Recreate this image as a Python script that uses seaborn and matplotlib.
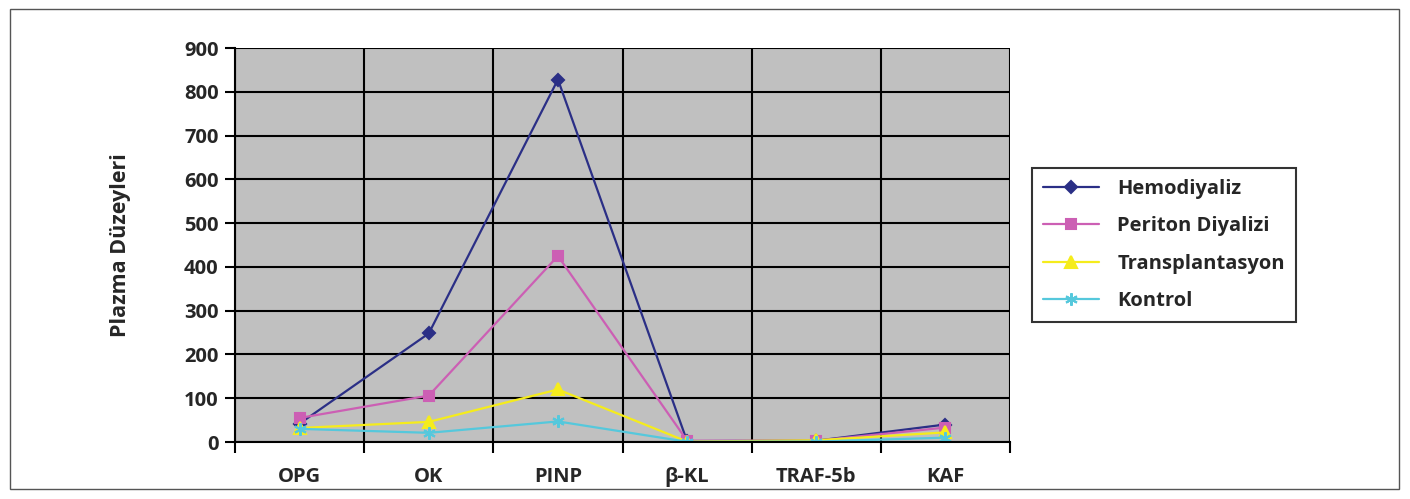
import numpy as np
import pandas as pd
import matplotlib
matplotlib.use("Agg")
import matplotlib.pyplot as plt
import seaborn as sns

# values
categories = ["OPG", "OK", "PINP", "\u03b2-KL", "TRAF-5b", "KAF"]
hemodiyaliz = [42, 248, 828, 2, 3, 40]
periton = [55, 106, 425, 3, 3, 33]
transplant = [32, 46, 120, 1, 4, 22]
kontrol = [30, 21, 47, 0.5, 1, 10]
series_names = ["Hemodiyaliz", "Periton Diyalizi", "Transplantasyon", "Kontrol"]
y_ticks = [0, 100, 200, 300, 400, 500, 600, 700, 800, 900]

sns.set_style("white")
plt.rcParams["font.family"] = ["Open Sans", "DejaVu Sans"]

pos = np.arange(len(categories))
all_vals = [hemodiyaliz, periton, transplant, kontrol]
colors = ["#2b2f86", "#cc5fb4", "#f5ec1c", "#55c8dc"]
markers = ["D", "s", "^", (6, 2, 0)]
msizes = [6, 7, 8, 9]

fig = plt.figure(figsize=(14.1, 4.99), dpi=100)
ax = fig.add_axes([0.1667, 0.1142, 0.5496, 0.7896])
ax.set_facecolor("#c0c0c0")

#draw each series with its own marker
for name, vals, c, m, ms in zip(series_names, all_vals, colors, markers, msizes):
    d = pd.DataFrame({"pos": pos, "val": vals})
    sns.lineplot(data=d, x="pos", y="val", color=c, marker=m, markersize=ms,
                 markeredgecolor=c, markeredgewidth=1.5, linewidth=1.6,
                 label=name, ax=ax)

ax.set_xlim(-0.5, len(categories) - 0.5)
ax.set_ylim(0, 900)
ax.set_yticks(y_ticks)
ax.set_xticks(pos)
ax.set_xticklabels(categories)
ax.set_xticks(np.arange(len(categories) + 1) - 0.5, minor=True)
ax.tick_params(axis="x", which="major", length=0, pad=18, labelsize=14.5)
ax.tick_params(axis="x", which="minor", length=8, width=1.5, color="black", direction="out", bottom=True)
ax.tick_params(axis="y", length=7, width=1.5, color="black", labelsize=14.5, pad=5, left=True)
for lab in ax.get_xticklabels() + ax.get_yticklabels():
    lab.set_fontweight("bold")
ax.grid(axis="y", which="major", color="black", linewidth=1.5)
ax.grid(axis="x", which="minor", color="black", linewidth=1.5)
ax.set_axisbelow(True)
for side in ["top", "right"]:
    ax.spines[side].set_visible(False)
ax.spines["left"].set_color("black")
ax.spines["left"].set_linewidth(1.5)
ax.spines["bottom"].set_color("black")
ax.spines["bottom"].set_linewidth(1.5)

ax.set_xlabel("")
ax.set_ylabel("Plazma D\u00fczeyleri", fontsize=15.5, fontweight="bold", labelpad=38)

handles, labels = ax.get_legend_handles_labels()
leg = ax.legend(handles, labels, loc="center left", bbox_to_anchor=(1.015, 0.5),
                frameon=True, fancybox=False, edgecolor="black",
                prop={"weight": "bold", "size": 14.5}, handlelength=2.8,
                labelspacing=0.85, borderpad=0.55, handletextpad=0.9)
leg.get_frame().set_linewidth(1.5)

# thin border around whole figure
fig.patches.append(plt.Rectangle((0.007, 0.02), 0.985, 0.962, transform=fig.transFigure,
                                 fill=False, edgecolor="#555555", linewidth=1))

fig.savefig("out.png", dpi=100)
